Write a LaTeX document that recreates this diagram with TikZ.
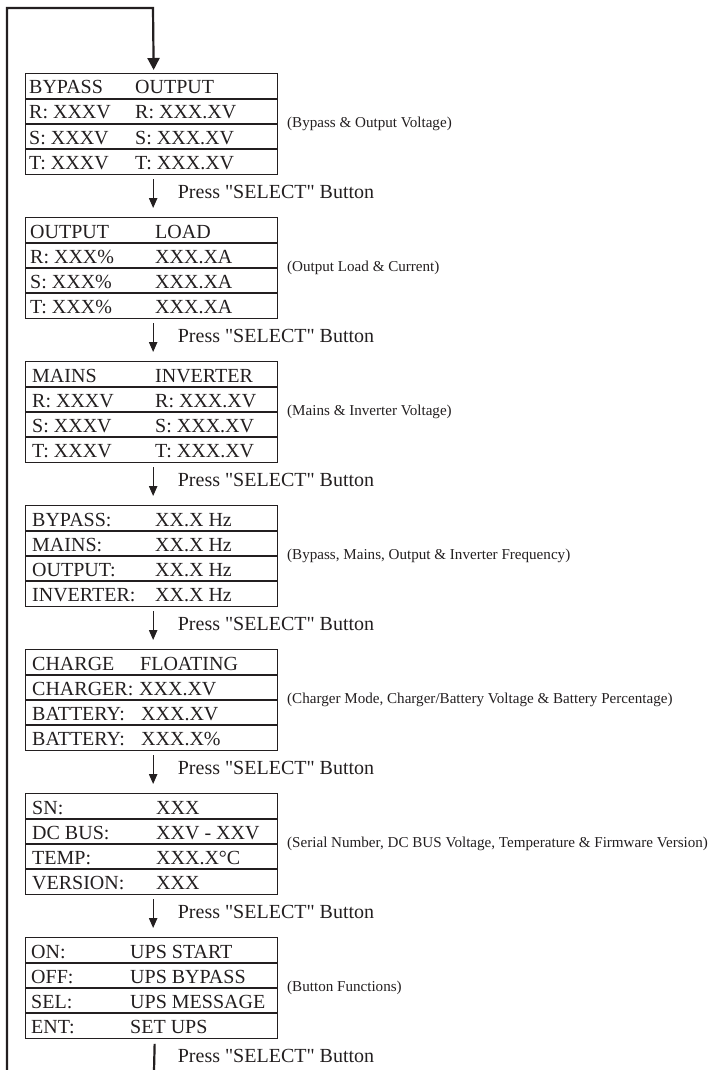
\documentclass[tikz,border=0pt]{standalone}
\usepackage{fontspec}
\setmainfont{Liberation Serif}
\usetikzlibrary{arrows.meta}
\definecolor{ink}{RGB}{35,31,32}
\newcommand\cellt[4]{\node[cell] (#1) at (#2,#3) {#4};}
\newcommand\pressbtn{Press \textquotedbl SELECT\textquotedbl{} Button}
\begin{document}
\begin{tikzpicture}[x=1pt,y=-1pt,
  cell/.style={anchor=base west, inner sep=0pt, text=ink, font=\fontsize{20}{24}\selectfont},
  presstxt/.style={anchor=base west, inner sep=0pt, text=ink, font=\fontsize{20}{24}\selectfont},
  note/.style={anchor=west, inner sep=0pt, text=ink, font=\fontsize{15.1}{18}\selectfont},
  panel/.style={draw=ink, line width=1.3pt, minimum width=252pt, minimum height=101pt, anchor=north west, inner sep=0pt},
  rowline/.style={draw=ink, line width=1.2pt},
  steparrow/.style={draw=ink, line width=1.1pt, -{Triangle[width=8.4pt,length=10pt]}},
  looparrow/.style={draw=ink, line width=2.2pt, -{Triangle[width=12pt,length=12pt]}},
  loopline/.style={draw=ink, line width=2.2pt},
]
\useasboundingbox (0,0) rectangle (709,1070);

% panels
\foreach \i/\t in {1/73,2/217,3/361,4/505,5/649,6/793,7/937}{
  \node[panel] (b\i) at (25,\t) {};
  \foreach \d in {26,51,76}
    \draw[rowline] ([yshift=-\d pt]b\i.north west) -- ([yshift=-\d pt]b\i.north east);
}

% box 1
\cellt{b1a1}{29}{94}{BYPASS}      \cellt{b1b1}{135}{94}{OUTPUT}
\cellt{b1a2}{29}{119}{R: XXXV}    \cellt{b1b2}{135}{119}{R: XXX.XV}
\cellt{b1a3}{29}{144}{S: XXXV}    \cellt{b1b3}{135}{144}{S: XXX.XV}
\cellt{b1a4}{29}{169}{T: XXXV}    \cellt{b1b4}{135}{169}{T: XXX.XV}
\node[note] (n1) at (287,123.5) {(Bypass \& Output Voltage)};

% box 2
\cellt{b2a1}{30}{238}{OUTPUT}     \cellt{b2b1}{155}{238}{LOAD}
\cellt{b2a2}{30}{263}{R: XXX\%}   \cellt{b2b2}{155}{263}{XXX.XA}
\cellt{b2a3}{30}{288}{S: XXX\%}   \cellt{b2b3}{155}{288}{XXX.XA}
\cellt{b2a4}{30}{313}{T: XXX\%}   \cellt{b2b4}{155}{313}{XXX.XA}
\node[note] (n2) at (287,267.5) {(Output Load \& Current)};

% box 3
\cellt{b3a1}{32}{382}{MAINS}      \cellt{b3b1}{155}{382}{INVERTER}
\cellt{b3a2}{32}{407}{R: XXXV}    \cellt{b3b2}{155}{407}{R: XXX.XV}
\cellt{b3a3}{32}{432}{S: XXXV}    \cellt{b3b3}{155}{432}{S: XXX.XV}
\cellt{b3a4}{32}{457}{T: XXXV}    \cellt{b3b4}{155}{457}{T: XXX.XV}
\node[note] (n3) at (287,411.5) {(Mains \& Inverter Voltage)};

% box 4
\cellt{b4a1}{32}{526}{BYPASS:}    \cellt{b4b1}{155}{526}{XX.X Hz}
\cellt{b4a2}{32}{551}{MAINS:}     \cellt{b4b2}{155}{551}{XX.X Hz}
\cellt{b4a3}{32}{576}{OUTPUT:}    \cellt{b4b3}{155}{576}{XX.X Hz}
\cellt{b4a4}{32}{601}{INVERTER:}  \cellt{b4b4}{155}{601}{XX.X Hz}
\node[note] (n4) at (287,555.5) {(Bypass, Mains, Output \& Inverter Frequency)};

% box 5
\cellt{b5a1}{32}{670}{CHARGE}     \cellt{b5b1}{140}{670}{FLOATING}
\cellt{b5a2}{32}{695}{CHARGER:}   \cellt{b5b2}{139}{695}{XXX.XV}
\cellt{b5a3}{32}{720}{BATTERY:}   \cellt{b5b3}{141}{720}{XXX.XV}
\cellt{b5a4}{32}{745}{BATTERY:}   \cellt{b5b4}{141}{745}{XXX.X\%}
\node[note] (n5) at (287,699.5) {(Charger Mode, Charger/Battery Voltage \& Battery Percentage)};

% box 6
\cellt{b6a1}{32}{814}{SN:}        \cellt{b6b1}{156}{814}{XXX}
\cellt{b6a2}{32}{839}{DC BUS:}    \cellt{b6b2}{156}{839}{XXV - XXV}
\cellt{b6a3}{32}{864}{TEMP:}      \cellt{b6b3}{156}{864}{XXX.X°C}
\cellt{b6a4}{32}{889}{VERSION:}   \cellt{b6b4}{156}{889}{XXX}
\node[note] (n6) at (287,843.5) {(Serial Number, DC BUS Voltage, Temperature \& Firmware Version)};

% box 7
\cellt{b7a1}{31}{958}{ON:}        \cellt{b7b1}{130}{958}{UPS START}
\cellt{b7a2}{31}{983}{OFF:}       \cellt{b7b2}{130}{983}{UPS BYPASS}
\cellt{b7a3}{31}{1008}{SEL:}      \cellt{b7b3}{130}{1008}{UPS MESSAGE}
\cellt{b7a4}{31}{1033}{ENT:}      \cellt{b7b4}{130}{1033}{SET UPS}
\node[note] (n7) at (287,987.5) {(Button Functions)};

% step arrows and labels
\foreach \i/\j in {1/2,2/3,3/4,4/5,5/6,6/7}{
  \draw[steparrow] ([xshift=1.5pt,yshift=-4pt]b\i.south) -- ([xshift=1.5pt,yshift=9pt]b\j.north);
  \node[presstxt] (p\i) at ([xshift=26pt,yshift=-23pt]b\i.south) {\pressbtn};
}
\node[presstxt] (p7) at ([xshift=26pt,yshift=-23pt]b7.south) {\pressbtn};

% loop
\coordinate (loopbot) at (7,1071);
\coordinate (looptop) at (7,8);
\coordinate (loopcorner) at (153,8);
\coordinate (endbot) at (154,1071);
\draw[looparrow] (loopbot) -- (looptop) -- (loopcorner) -- ([xshift=2pt,yshift=3pt]b1.north);
\draw[loopline] ([xshift=3pt,yshift=-4.5pt]b7.south) -- (endbot);
\end{tikzpicture}
\end{document}
